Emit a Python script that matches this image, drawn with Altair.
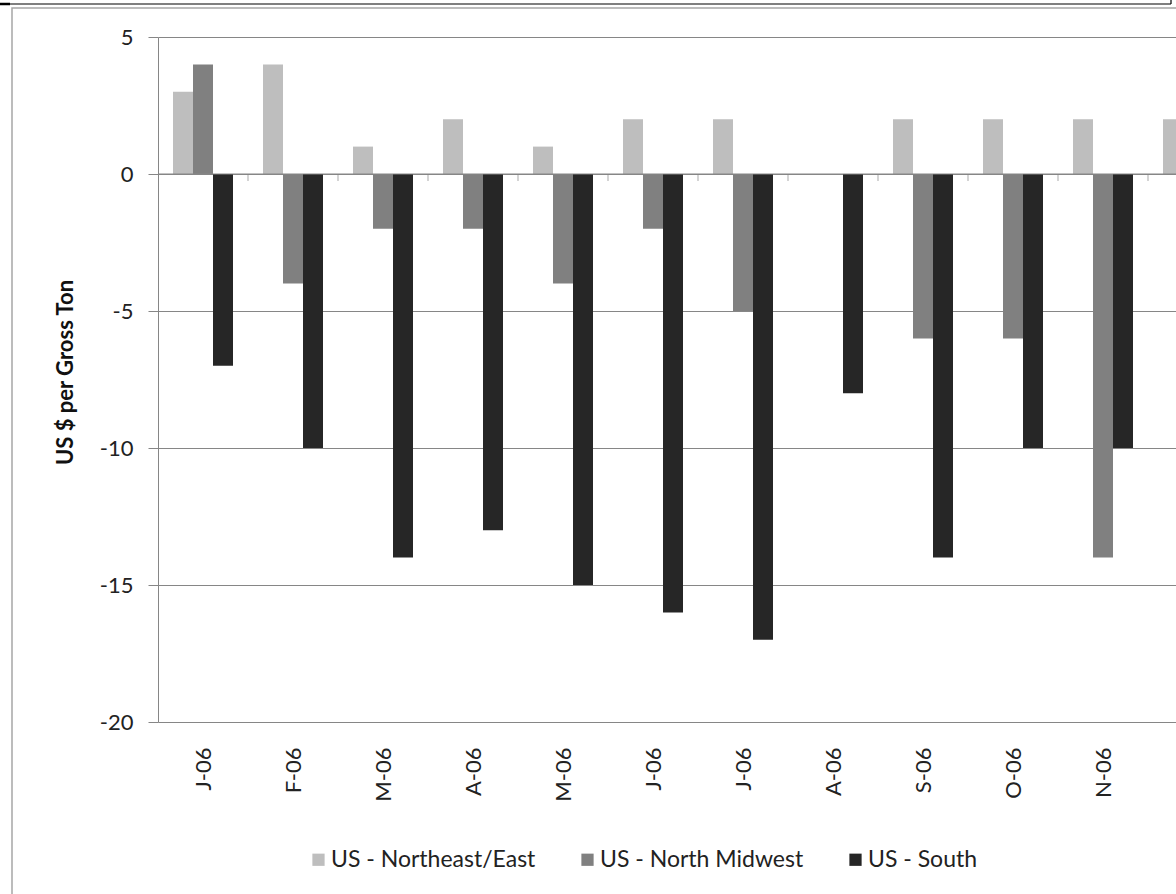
import altair as alt
import pandas as pd

# Monthly price change by region, 2006
months = ["J-06", "F-06", "M-06", "A-06", "M-06", "J-06", "J-06", "A-06",
          "S-06", "O-06", "N-06", "D-06"]
northeast = [3, 4, 1, 2, 1, 2, 2, 0, 2, 2, 2, 2]
midwest = [4, -4, -2, -2, -4, -2, -5, 0, -6, -6, -14, None]
south = [-7, -10, -14, -13, -15, -16, -17, -8, -14, -10, -10, None]
series_names = ["US - Northeast/East", "US - North Midwest", "US - South"]
series_colors = ["#BEBEBE", "#808080", "#262626"]
y_ticks = [5, 0, -5, -10, -15, -20]

rows = []
for k, (name, vals) in enumerate(zip(series_names, [northeast, midwest, south])):
    for i, v in enumerate(vals):
        if v is None:
            continue
        rows.append({"idx": i, "series": name, "k": k, "value": v})
df = pd.DataFrame(rows)

FONT = "Lato"
GRID = "#868686"
TEXT = "#222222"
W, H = 1018, 685
SLOT = 90  # pixels per month on the x scale
x_domain = [0, W / SLOT]

x_scale = alt.Scale(domain=x_domain, nice=False, zero=False)
y_scale = alt.Scale(domain=[-20, 5], nice=False)

label_array = "[" + ",".join("'%s'" % m for m in months) + "]"

bars = alt.Chart(df).transform_calculate(
    x0="datum.idx + 1/6 + datum.k * 2/9",
    x1="datum.idx + 1/6 + (datum.k + 1) * 2/9",
).mark_bar(clip=True, stroke=None).encode(
    x=alt.X("x0:Q", scale=x_scale,
            axis=alt.Axis(values=[i + 0.5 for i in range(len(months))],
                          labelExpr=label_array + "[round(datum.value - 0.5)]",
                          title=None, grid=False, ticks=False, domain=False,
                          labelAngle=270, labelAlign="right", labelBaseline="middle",
                          labelPadding=25, labelFontSize=22, labelColor=TEXT,
                          labelFont=FONT, labelFlush=False, labelOverlap=False)),
    x2="x1:Q",
    y=alt.Y("value:Q", scale=y_scale,
            axis=alt.Axis(values=y_ticks, title="US $ per Gross Ton",
                          labelExpr="'' + datum.value",
                          titleFont=FONT, titleFontSize=22, titleFontWeight="bold",
                          titleColor="#111111", titleAngle=270, titleX=-93, titleY=335,
                          titleAlign="center", titleBaseline="middle",
                          grid=True, gridColor=GRID, domainColor=GRID,
                          tickColor=GRID, tickSize=10, labelPadding=15,
                          labelFontSize=22, labelFont=FONT, labelColor=TEXT)),
    y2=alt.datum(0),
    color=alt.Color("series:N",
                    scale=alt.Scale(domain=series_names, range=series_colors),
                    legend=alt.Legend(orient="none", legendX=149, legendY=811,
                                      direction="horizontal", title=None,
                                      padding=0,
                                      symbolType="square", symbolSize=150,
                                      symbolStrokeWidth=0, labelFont=FONT,
                                      labelFontSize=23, labelColor=TEXT,
                                      labelLimit=0, columnPadding=40,
                                      labelOffset=1)),
)

# Category axis line at zero with small ticks between months
zero_line = alt.Chart(pd.DataFrame({"z": [0]})).mark_rule(color=GRID, strokeWidth=1).encode(
    y=alt.Y("z:Q", scale=y_scale)
)
boundaries = pd.DataFrame({"b": list(range(1, len(months))), "z": 0})
boundary_ticks = alt.Chart(boundaries).mark_tick(
    orient="vertical", size=7, thickness=1, color=GRID, yOffset=3.5, clip=True
).encode(
    x=alt.X("b:Q", scale=x_scale),
    y=alt.Y("z:Q", scale=y_scale),
)

one = pd.DataFrame({"a": [0]})
# Outer chart border
frame = alt.Chart(one).mark_rect(fill=None, stroke="#A6A6A6", strokeWidth=1.5).encode(
    x=alt.value(-146), x2=alt.value(W + 100), y=alt.value(-29), y2=alt.value(H + 300)
)
# Cell edge running above the chart
top_line = alt.Chart(one).mark_rule(color="#000000", strokeWidth=1.2).encode(
    x=alt.value(-148), x2=alt.value(W - 5), y=alt.value(-33)
)
top_stub = alt.Chart(one).mark_rule(color="#000000", strokeWidth=2.5).encode(
    x=alt.value(-158), x2=alt.value(-148), y=alt.value(-33)
)
right_stub = alt.Chart(one).mark_rule(color="#000000", strokeWidth=1.2).encode(
    x=alt.value(W - 5), y=alt.value(-40), y2=alt.value(-33)
)

chart = alt.layer(
    frame, top_line, top_stub, right_stub, bars, zero_line, boundary_ticks
).properties(
    width=W, height=H,
    autosize=alt.AutoSizeParams(type="none"),
    padding={"left": 158, "top": 37, "right": 0, "bottom": 172},
    background="white",
).configure_view(stroke=None).configure_axis(labelFont=FONT)

chart.save("out.html", embed_options={"renderer": "svg", "actions": False})
